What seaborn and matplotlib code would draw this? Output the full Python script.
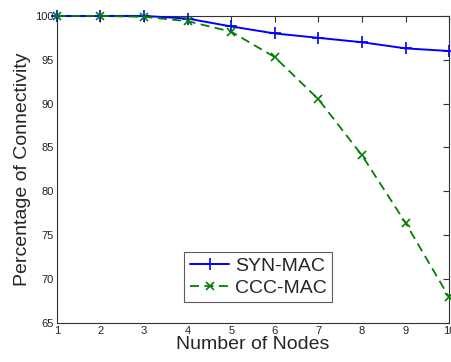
import matplotlib
matplotlib.use("Agg")
import matplotlib.pyplot as plt
import seaborn as sns

nodes = [1, 2, 3, 4, 5, 6, 7, 8, 9, 10]
syn_mac = [100, 100, 100, 99.7, 98.8, 98.0, 97.5, 97.0, 96.3, 96.0]
ccc_mac = [100, 100, 99.9, 99.4, 98.2, 95.3, 90.5, 84.1, 76.4, 67.9]

sns.set_style("white")
plt.rcParams["font.family"] = ["Liberation Sans", "DejaVu Sans"]

fig = plt.figure(figsize=(4.51, 3.62), dpi=100)
ax = fig.add_axes([0.126, 0.108, 0.87, 0.848])

sns.lineplot(x=nodes, y=syn_mac, color="#0000ff", marker="+", markersize=8,
             markeredgewidth=1.2, markeredgecolor="#0000ff", linewidth=1.4,
             label="SYN-MAC", ax=ax, clip_on=False, zorder=3)
sns.lineplot(x=nodes, y=ccc_mac, color="#008000", marker="x", markersize=6,
             markeredgewidth=1.2, markeredgecolor="#008000", linewidth=1.3,
             linestyle=(0, (5, 3)), label="CCC-MAC", ax=ax, clip_on=False,
             zorder=4)

ax.set_xlim(1, 10)
ax.set_ylim(65, 100)
ax.set_xticks(nodes)
ax.set_yticks(range(65, 101, 5))
ax.tick_params(direction="in", length=4, labelsize=8, top=True, right=True,
               color="#333333", labelcolor="#222222", pad=2)
for s in ax.spines.values():
    s.set_color("#333333")
    s.set_linewidth(0.8)
ax.set_xlabel("Number of Nodes", fontsize=14, labelpad=0)
ax.set_ylabel("Percentage of Connectivity", fontsize=14, labelpad=3)

leg = ax.legend(loc="lower left", bbox_to_anchor=(0.3, 0.035), fontsize=14,
                frameon=True, fancybox=False, handlelength=2.0,
                handletextpad=0.3, borderpad=0.3, labelspacing=0.2)
leg.get_frame().set_edgecolor("#333333")
leg.get_frame().set_linewidth(0.8)

fig.savefig("out.png", dpi=100)
